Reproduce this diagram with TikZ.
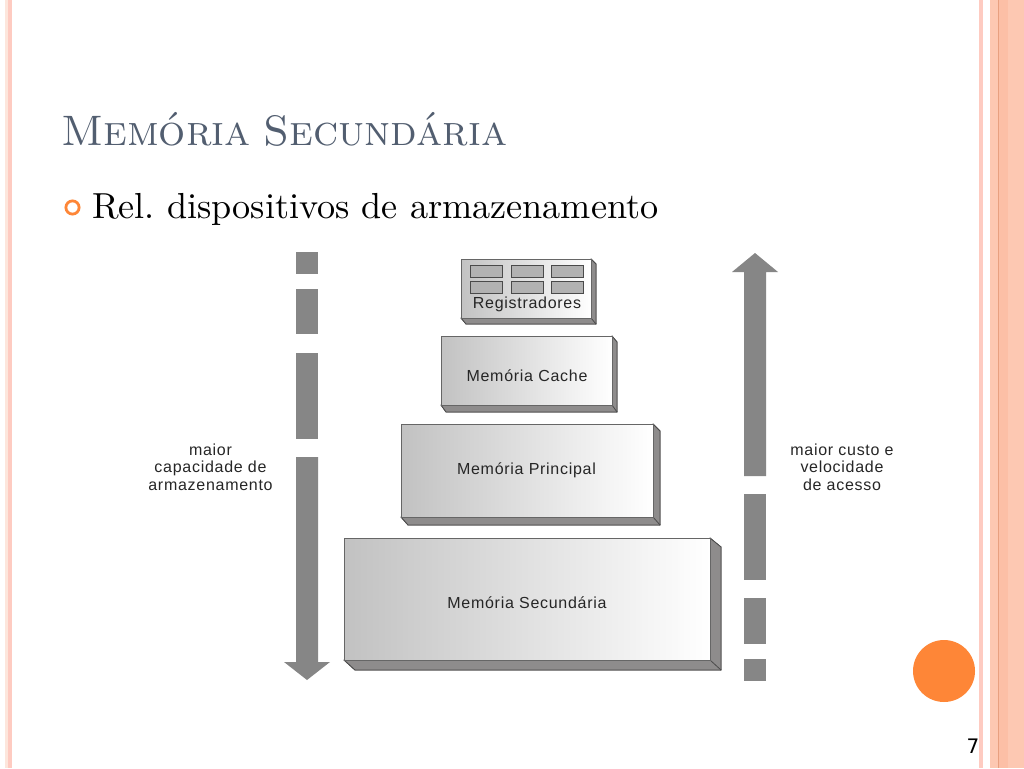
\documentclass[tikz,border=0pt]{standalone}
\usepackage{fontspec}
\setsansfont{Liberation Sans}[LetterSpace=4.5]
\newfontfamily\bodyten{lmroman10-regular.otf}[SmallCapsFont=lmromancaps10-regular.otf]
\newfontfamily\numfont{DejaVu Sans}
\definecolor{salmon}{HTML}{FDC8B2}
\definecolor{salmond}{HTML}{FCBFA6}
\definecolor{salmonl}{HTML}{FECBC1}
\definecolor{cream}{HTML}{FDE6DC}
\definecolor{stripe}{HTML}{E8A080}
\definecolor{titleblue}{HTML}{525E70}
\definecolor{arrowgray}{HTML}{868686}
\definecolor{sidegray}{HTML}{8E8C8C}
\definecolor{edgegray}{HTML}{4A4A4A}
\definecolor{dotorange}{HTML}{FE8637}
\tikzset{
  x=1pt,y=-1pt,
  slab/.style={fill=arrowgray,draw=none},
  side/.style={fill=sidegray,draw=edgegray,line width=0.8pt,line join=round},
  front/.style={left color=black!24,right color=white,draw=black!60,line width=0.8pt},
  cell/.style={fill=black!30,draw=edgegray,line width=0.7pt},
  lab/.style={font=\sffamily\fontsize{16}{17.5}\selectfont,text=black!85,align=center,inner sep=0pt},
}
\newcommand{\slabbox}[7]{%
  \fill[side] (#3,#2) -- (#5,#6) -- (#5,#7) -- (#3,#4) -- cycle;
  \fill[side] (#1,#4) -- (#1+#5-#3,#7) -- (#5,#7) -- (#3,#4) -- cycle;
  \draw[side] (#3,#2) -- (#5,#6) -- (#5,#7) -- (#1+#5-#3,#7) -- (#1,#4) -- (#3,#4) -- cycle;
  \draw[side] (#3,#4) -- (#5,#7);
  \shade[front] (#1,#2) rectangle (#3,#4);
}
\begin{document}
\begin{tikzpicture}
\useasboundingbox (0,0) rectangle (1024,768);
\fill[white] (0,0) rectangle (1024,768);
% side stripes
\fill[cream] (5,0) rectangle (7.5,768);
\fill[salmonl] (8,0) rectangle (12,768);
\fill[salmonl] (979,0) rectangle (983,768);
\fill[salmon] (990,0) rectangle (1024,768);
\fill[salmond] (998,0) rectangle (1008,768);
\fill[stripe] (998,0) rectangle (999,768);
% title and bullet
\node[anchor=base west,inner sep=0pt,text=titleblue,font=\bodyten\fontsize{42.6}{48}\selectfont\scshape] (title) at (61,145) {Memória\hspace{-3pt} Secundária};
\draw[dotorange,line width=2.8pt] (72.5,207.5) circle (6.6);
\node[anchor=base west,inner sep=0pt,font=\bodyten\fontsize{36.2}{42}\selectfont] (sub) at (92,218) {Rel.\ dispositivos de armazenamento};
% left arrow
\fill[slab] (296,252) rectangle (318,274);
\fill[slab] (296,289) rectangle (318,334);
\fill[slab] (296,353) rectangle (318,439);
\fill[slab] (296,457) -- (318,457) -- (318,662) -- (330,662) -- (307,680) -- (284,662) -- (296,662) -- cycle;
% right arrow
\fill[slab] (755,253) -- (778,272) -- (766,272) -- (766,476) -- (744,476) -- (744,272) -- (732,272) -- cycle;
\fill[slab] (744,494) rectangle (766,580);
\fill[slab] (744,598) rectangle (766,644);
\fill[slab] (744,659) rectangle (766,681);
% pyramid
\slabbox{461}{259}{591}{318}{596}{264}{324}
\slabbox{441}{336}{612}{405}{617}{342}{412}
\slabbox{401}{424}{653}{517}{660}{431}{525}
\slabbox{344}{538}{710}{660}{721}{547}{670}
\foreach \cx in {470,511,551}{
  \foreach \cy in {265,281}{
    \draw[cell] (\cx,\cy) rectangle (\cx+32,\cy+12);
  }
}
\node[lab] (reg) at (527,304.5) {Registradores};
\node[lab] (cache) at (527,375.5) {Memória Cache};
\node[lab] (princ) at (526.5,470) {Memória Principal};
\node[lab] (sec) at (527,602.5) {Memória Secundária};
\node[lab] (left) at (210.5,467) {maior\\capacidade de\\armazenamento};
\node[lab] (right) at (842,467) {maior custo e\\velocidade\\de acesso};
% corner
\fill[dotorange] (944,671) circle (31);
\node[anchor=base,inner sep=0pt,font=\numfont\fontsize{20}{24}\selectfont] (num) at (973,753) {7};
\end{tikzpicture}
\end{document}
